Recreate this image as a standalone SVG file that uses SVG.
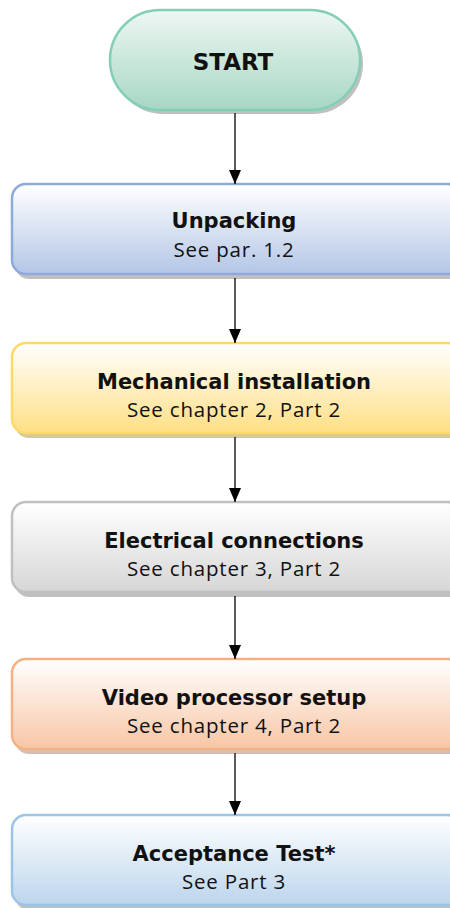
<svg xmlns="http://www.w3.org/2000/svg" width="450" height="908" viewBox="0 0 450 908">
<defs>
<linearGradient id="gStart" x1="0" y1="0" x2="0" y2="1"><stop offset="0" stop-color="#eef7f3"/><stop offset="1" stop-color="#a6d7c4"/></linearGradient>
<linearGradient id="gBlue" x1="0" y1="0" x2="0" y2="1"><stop offset="0" stop-color="#ffffff"/><stop offset="1" stop-color="#b3c6e6"/></linearGradient>
<linearGradient id="gYellow" x1="0" y1="0" x2="0" y2="1"><stop offset="0" stop-color="#ffffff"/><stop offset="1" stop-color="#ffdf85"/></linearGradient>
<linearGradient id="gGray" x1="0" y1="0" x2="0" y2="1"><stop offset="0" stop-color="#ffffff"/><stop offset="1" stop-color="#d6d6d6"/></linearGradient>
<linearGradient id="gOrange" x1="0" y1="0" x2="0" y2="1"><stop offset="0" stop-color="#ffffff"/><stop offset="1" stop-color="#f7c6a5"/></linearGradient>
<linearGradient id="gLight" x1="0" y1="0" x2="0" y2="1"><stop offset="0" stop-color="#ffffff"/><stop offset="1" stop-color="#bcd5ec"/></linearGradient>
<marker id="arr" markerWidth="14" markerHeight="12" refX="14" refY="6" orient="auto" markerUnits="userSpaceOnUse" viewBox="0 0 14 12">
<path d="M0,0 L14,6 L0,12 Z" fill="#000"/>
</marker>
</defs>
<style>
.shadow{fill:#8c8c8c;opacity:0.55}
.box{stroke-width:2.5}
.t{font-family:"DejaVu Sans","Open Sans",sans-serif;font-weight:bold;font-size:21px;fill:#111;text-anchor:middle}
.st{font-size:23px}
.s{font-family:"Open Sans","DejaVu Sans",sans-serif;font-size:20.5px;letter-spacing:0.8px;fill:#111;text-anchor:middle}
.c{stroke:#000;stroke-width:1.3;fill:none}
</style>
<g id="start">
<rect class="shadow" x="113" y="14" width="250" height="100" rx="50"/>
<rect class="box" x="110" y="10" width="250" height="100" rx="50" fill="url(#gStart)" stroke="#83cfb6"/>
<text class="t st" x="233" y="70">START</text>
</g>
<g id="unpacking">
<rect class="shadow" x="15" y="189" width="450" height="90" rx="14"/>
<rect class="box" x="12" y="184" width="450" height="90" rx="14" fill="url(#gBlue)" stroke="#8eaadb"/>
<text class="t" x="234" y="228">Unpacking</text>
<text class="s" x="234" y="257">See par. 1.2</text>
</g>
<g id="mechanical">
<rect class="shadow" x="15" y="348" width="450" height="90" rx="14" style="fill:#b39b4a"/>
<rect class="box" x="12" y="343" width="450" height="90" rx="14" fill="url(#gYellow)" stroke="#ffd966"/>
<text class="t" x="234" y="389">Mechanical installation</text>
<text class="s" x="234" y="417">See chapter 2, Part 2</text>
</g>
<g id="electrical">
<rect class="shadow" x="15" y="507" width="450" height="90" rx="14"/>
<rect class="box" x="12" y="502" width="450" height="90" rx="14" fill="url(#gGray)" stroke="#c0c0c0"/>
<text class="t" x="234" y="548">Electrical connections</text>
<text class="s" x="234" y="576">See chapter 3, Part 2</text>
</g>
<g id="video">
<rect class="shadow" x="15" y="664" width="450" height="90" rx="14" style="fill:#b08a73"/>
<rect class="box" x="12" y="659" width="450" height="90" rx="14" fill="url(#gOrange)" stroke="#f4b183"/>
<text class="t" x="234" y="705">Video processor setup</text>
<text class="s" x="234" y="733">See chapter 4, Part 2</text>
</g>
<g id="acceptance">
<rect class="shadow" x="15" y="820" width="450" height="90" rx="14"/>
<rect class="box" x="12" y="815" width="450" height="90" rx="14" fill="url(#gLight)" stroke="#9dc3e6"/>
<text class="t" x="234" y="861">Acceptance Test*</text>
<text class="s" x="234" y="889">See Part 3</text>
</g>
<g id="connectors">
<line class="c" x1="235" y1="113" x2="235" y2="184" marker-end="url(#arr)"/>
<line class="c" x1="235" y1="278" x2="235" y2="343" marker-end="url(#arr)"/>
<line class="c" x1="235" y1="437" x2="235" y2="502" marker-end="url(#arr)"/>
<line class="c" x1="235" y1="596" x2="235" y2="659" marker-end="url(#arr)"/>
<line class="c" x1="235" y1="753" x2="235" y2="815" marker-end="url(#arr)"/>
</g>
</svg>
